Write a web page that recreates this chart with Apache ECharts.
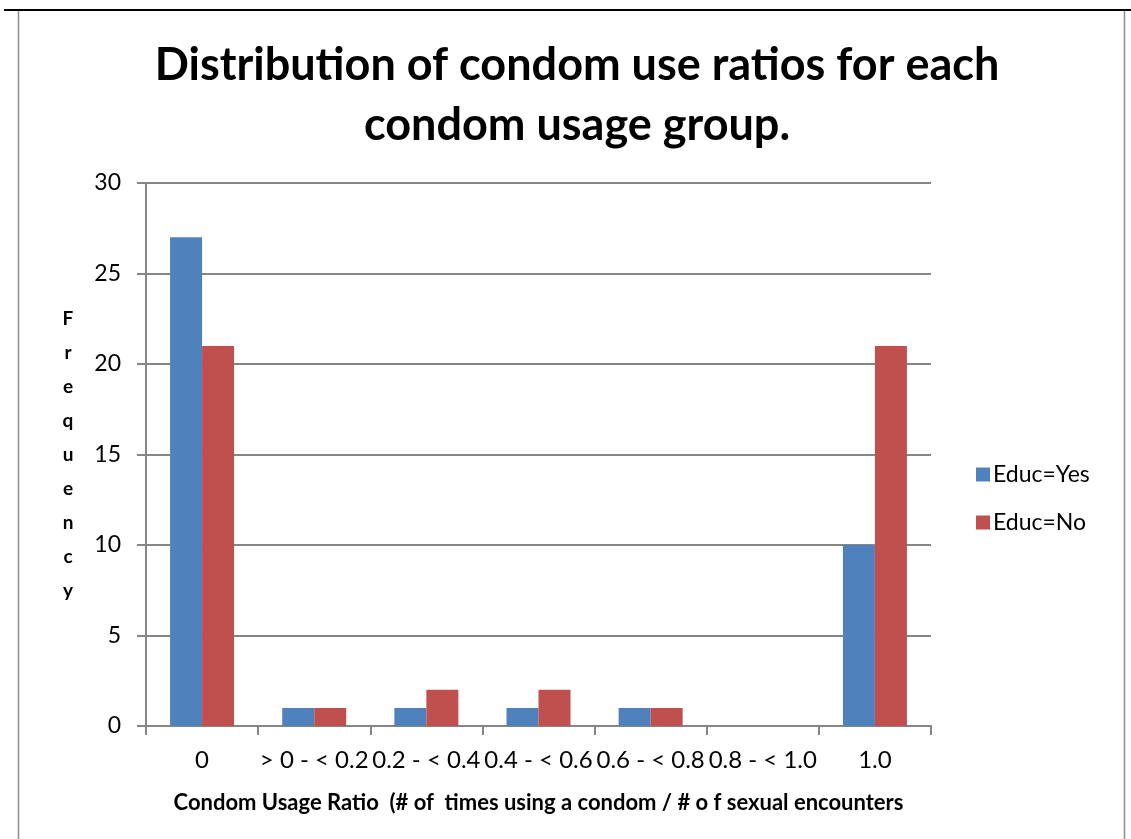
<!DOCTYPE html>
<html>
<head>
<meta charset="utf-8">
<script src="https://cdn.jsdelivr.net/npm/echarts@6/dist/echarts.min.js"></script>
<style>
  html, body { margin: 0; padding: 0; background: #fff; }
  #chart { width: 1131px; height: 839px; }
</style>
</head>
<body>
<div id="chart"></div>
<script>
const categories = ['0', '> 0 - < 0.2', '0.2 - < 0.4', '0.4 - < 0.6', '0.6 - < 0.8', '0.8 - < 1.0', '1.0']
const educYes = [27, 1, 1, 1, 1, 0, 10]
const educNo = [21, 1, 2, 2, 1, 0, 21]
const yTicks = { min: 0, max: 30, interval: 5 }

const fontFamily = 'Lato'
const gridColor = '#868686'

const chart = echarts.init(document.getElementById('chart'))

const option = {
    animation: false,
    textStyle: { fontFamily: fontFamily },
    title: {
        text: 'Distribution of condom use ratios for each\ncondom usage group.',
        left: 572,
        top: 30,
        textAlign: 'center',
        textStyle: {
            fontFamily: fontFamily,
            fontSize: 45,
            fontWeight: 'bold',
            color: '#000',
            lineHeight: 60
        }
    },
    legend: {
        orient: 'vertical',
        left: 971,
        top: 458,
        itemWidth: 14,
        itemHeight: 14,
        itemGap: 25,
        icon: 'rect',
        textStyle: { fontSize: 23, color: '#000', fontFamily: fontFamily, padding: [0, 0, 0, -2] }
    },
    grid: {
        left: 146,
        right: 200,
        top: 183,
        bottom: 113
    },
    xAxis: {
        type: 'category',
        data: categories,
        name: 'Condom Usage Ratio  (# of  times using a condom / # o f sexual encounters',
        nameLocation: 'middle',
        nameGap: 66,
        nameTextStyle: { fontSize: 22, fontWeight: 'bold', color: '#000' },
        axisLine: { lineStyle: { color: gridColor, width: 2 } },
        axisTick: { show: true, length: 9, lineStyle: { color: gridColor, width: 2 } },
        axisLabel: { fontSize: 24, color: '#000', margin: 22, interval: 0 }
    },
    yAxis: {
        type: 'value',
        min: yTicks.min,
        max: yTicks.max,
        interval: yTicks.interval,
        name: 'F\nr\ne\nq\nu\ne\nn\nc\ny',
        nameLocation: 'middle',
        nameRotate: 0,
        nameGap: 78,
        nameTextStyle: { fontSize: 19, fontWeight: 'bold', color: '#000', lineHeight: 34, align: 'center', padding: [8, 0, 0, 0] },
        axisLine: { show: true, lineStyle: { color: gridColor, width: 2 } },
        axisTick: { show: true, length: 9, lineStyle: { color: gridColor, width: 2 } },
        axisLabel: { fontSize: 23, color: '#000', margin: 25 },
        splitLine: { lineStyle: { color: gridColor, width: 2 } }
    },
    series: [
        {
            name: 'Educ=Yes',
            type: 'bar',
            data: educYes,
            barWidth: 32,
            barGap: 0,
            itemStyle: { color: '#4F81BD' }
        },
        {
            name: 'Educ=No',
            type: 'bar',
            data: educNo,
            barWidth: 32,
            barGap: 0,
            itemStyle: { color: '#C0504D' }
        }
    ],
    graphic: [
        { type: 'line', shape: { x1: 4, y1: 10, x2: 1131, y2: 10 }, style: { stroke: '#000', lineWidth: 2 } },
        { type: 'line', shape: { x1: 18.5, y1: 11, x2: 18.5, y2: 839 }, style: { stroke: '#8c8c8c', lineWidth: 1.5 } },
        { type: 'line', shape: { x1: 1124.5, y1: 11, x2: 1124.5, y2: 839 }, style: { stroke: '#8c8c8c', lineWidth: 1.5 } }
    ]
}

chart.setOption(option)
</script>
</body>
</html>
